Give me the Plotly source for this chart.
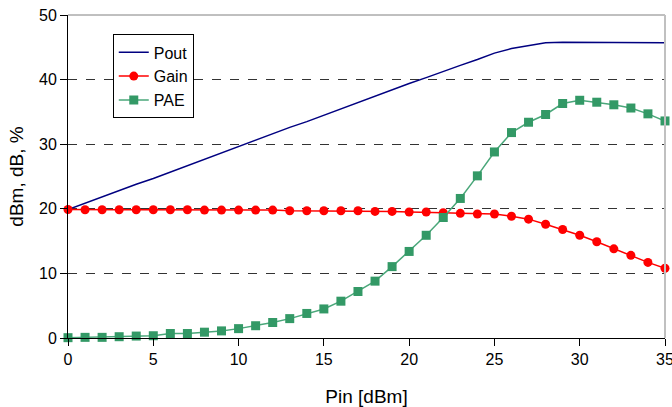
import plotly.graph_objects as go

pin = list(range(0, 36))
pout = [19.9, 20.9, 21.9, 22.8, 23.8, 24.7, 25.7, 26.6, 27.6, 28.6, 29.6,
        30.6, 31.6, 32.6, 33.5, 34.5, 35.4, 36.4, 37.4, 38.4, 39.4,
        40.3, 41.3, 42.2, 43.1, 44.1, 44.8, 45.3, 45.7, 45.8, 45.8,
        45.8, 45.8, 45.8, 45.7, 45.7]
gain = [19.9, 19.85, 19.85, 19.85, 19.85, 19.85, 19.85, 19.85, 19.8, 19.8, 19.8,
        19.8, 19.8, 19.7, 19.7, 19.7, 19.7, 19.7, 19.6, 19.6, 19.5,
        19.5, 19.4, 19.3, 19.2, 19.2, 18.85, 18.4, 17.6, 16.8, 15.9,
        14.9, 13.8, 12.8, 11.7, 10.8]
pae = [0.05, 0.1, 0.1, 0.2, 0.3, 0.35, 0.7, 0.7, 0.9, 1.1, 1.45,
       1.9, 2.4, 3.0, 3.8, 4.5, 5.7, 7.2, 8.8, 11.05, 13.4,
       15.9, 18.65, 21.6, 25.1, 28.8, 31.8, 33.4, 34.6, 36.3, 36.8,
       36.5, 36.1, 35.6, 34.7, 33.6]

x_ticks = [0, 5, 10, 15, 20, 25, 30, 35]
y_ticks = [0, 10, 20, 30, 40, 50]

font = "Liberation Sans, Arial, sans-serif"

fig = go.Figure()
fig.add_trace(go.Scatter(x=pin, y=pout, name="Pout", mode="lines",
                         line=dict(color="#000080", width=1.5), cliponaxis=False))
fig.add_trace(go.Scatter(x=pin, y=gain, name="Gain", mode="lines+markers",
                         line=dict(color="#ff0000", width=1.5), cliponaxis=False,
                         marker=dict(symbol="circle", size=9, color="#ff0000")))
fig.add_trace(go.Scatter(x=pin, y=pae, name="PAE", mode="lines+markers",
                         line=dict(color="#4aa77a", width=1.5), cliponaxis=False,
                         marker=dict(symbol="square", size=9, color="#339966")))

fig.update_layout(
    width=672, height=407,
    margin=dict(l=68, r=7, t=15, b=69, autoexpand=False),
    paper_bgcolor="white", plot_bgcolor="white",
    font=dict(family=font, size=16, color="black"),
    showlegend=True,
    legend=dict(x=0.075, y=0.94, xanchor="left", yanchor="top",
                bgcolor="white", bordercolor="black", borderwidth=1,
                font=dict(size=16), tracegroupgap=0, itemwidth=30),
    xaxis=dict(range=[0, 35], tickvals=x_ticks, showgrid=False, zeroline=False,
               showline=True, linecolor="black", linewidth=1, automargin=False,
               ticks="outside", ticklen=7, tickcolor="black",
               ticklabeloverflow="allow",
               title=dict(text="Pin [dBm]", standoff=23)),
    yaxis=dict(range=[0, 50], tickvals=y_ticks, showgrid=True, gridcolor="#333333",
               griddash="dash", gridwidth=1, zeroline=False, automargin=False,
               showline=True, linecolor="black", linewidth=1,
               ticks="outside", ticklen=7, tickcolor="black",
               ticklabeloverflow="allow",
               title=dict(text="dBm, dB, %", standoff=10)),
)
# top and right borders of the plot area
fig.add_shape(type="line", xref="paper", yref="paper", x0=0, x1=1, y0=1, y1=1,
              line=dict(color="#808080", width=1))
fig.add_shape(type="line", xref="paper", yref="paper", x0=1, x1=1, y0=0, y1=1,
              line=dict(color="#c0c0c0", width=2))

fig.write_html("out.html", config={"displayModeBar": False},
               post_script="document.body.style.margin='0';document.body.style.overflow='hidden';")
